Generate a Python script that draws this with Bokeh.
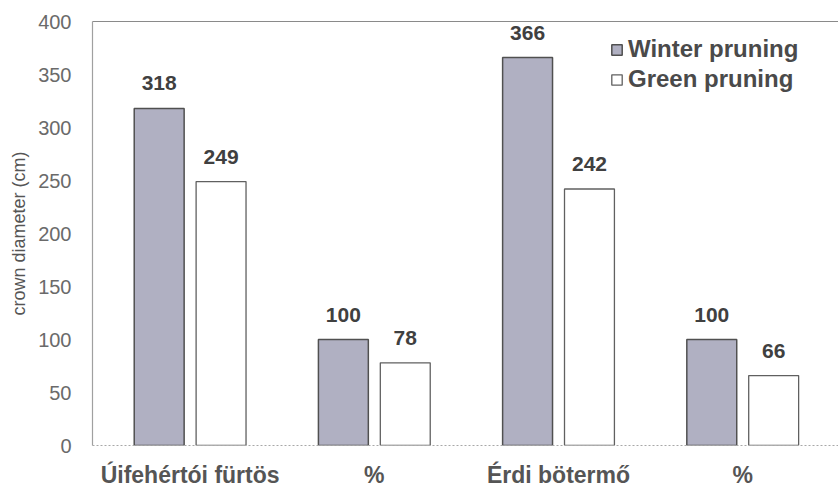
from bokeh.plotting import figure
from bokeh.models import (ColumnDataSource, FixedTicker, LinearAxis, Legend, LegendItem, Range1d)
from bokeh.core.properties import value
from bokeh.embed import file_html
from bokeh.resources import INLINE

categories = ["Úifehértói fürtös", "%", "Érdi bötermő", "%"]
winter = [318, 100, 366, 100]
green = [249, 78, 242, 66]
series_names = ["Winter pruning", "Green pruning"]
y_ticks = [0, 50, 100, 150, 200, 250, 300, 350, 400]

FONT = "Liberation Sans"
pos = list(range(len(categories)))
off = 0.168
bw = 0.271

src_w = ColumnDataSource(dict(x=[p - off for p in pos], top=winter, lab=[str(v) for v in winter]))
src_g = ColumnDataSource(dict(x=[p + off for p in pos], top=green, lab=[str(v) for v in green]))

p = figure(width=838, height=490, output_backend="svg", toolbar_location=None,
           x_range=Range1d(-0.53, 3.52), y_range=Range1d(0, 400),
           min_border_left=92, min_border_right=0, min_border_top=21, min_border_bottom=44,
           background_fill_color="white", border_fill_color="white")
p.outline_line_color = None
p.grid.visible = False

rw = p.vbar(x="x", top="top", width=bw, bottom=0, source=src_w,
            fill_color="#b0b0c2", line_color="#505050", line_width=1.5)
rg = p.vbar(x="x", top="top", width=bw, bottom=0, source=src_g,
            fill_color="white", line_color="#606060", line_width=1.3)

for s in (src_w, src_g):
    p.text(x="x", y="top", text="lab", source=s, text_align="center", text_baseline="bottom",
           y_offset=-18, text_font=value(FONT), text_font_size="21px", text_font_style="bold",
           text_color="#404040")

# y axis
ya = p.yaxis[0]
ya.ticker = FixedTicker(ticks=y_ticks)
ya.axis_line_color = "#a0a0a0"
ya.axis_line_width = 1.2
ya.major_tick_line_color = None
ya.minor_tick_line_color = None
ya.major_label_standoff = 15
ya.major_label_text_font = FONT
ya.major_label_text_font_size = "20px"
ya.major_label_text_color = "#6a6a6a"
ya.axis_label = "crown diameter (cm)"
ya.axis_label_text_font = FONT
ya.axis_label_text_font_size = "18px"
ya.axis_label_text_font_style = "normal"
ya.axis_label_text_color = "#555555"
ya.axis_label_standoff = 6

# x axis
xa = p.xaxis[0]
xa.ticker = FixedTicker(ticks=pos)
xa.major_label_overrides = {i: c for i, c in enumerate(categories)}
xa.axis_line_color = "#a8a8a8"
xa.axis_line_dash = "2 2"
xa.major_tick_line_color = None
xa.major_tick_out = 0
xa.minor_tick_line_color = None
xa.major_label_standoff = 16
xa.major_label_text_font = FONT
xa.major_label_text_font_size = "23px"
xa.major_label_text_font_style = "bold"
xa.major_label_text_color = "#555555"

# top border
top_axis = LinearAxis(ticker=FixedTicker(ticks=[]), axis_line_color="#8a8a8a",
                      axis_line_width=1.2, major_tick_line_color=None,
                      minor_tick_line_color=None, major_label_text_font_size="0px")
p.add_layout(top_axis, "above")

legend = Legend(items=[LegendItem(label=series_names[0], renderers=[rw]),
                       LegendItem(label=series_names[1], renderers=[rg])],
                location=(518, 352), orientation="vertical")
legend.border_line_color = None
legend.background_fill_alpha = 0
legend.padding = 0
legend.margin = 0
legend.spacing = 2
legend.glyph_width = 13
legend.glyph_height = 13
legend.label_standoff = 5
legend.label_text_font = FONT
legend.label_text_font_size = "24px"
legend.label_text_font_style = "bold"
legend.label_text_color = "#4a4a4a"
p.add_layout(legend)

open("out.html", "w").write(file_html(p, INLINE))
